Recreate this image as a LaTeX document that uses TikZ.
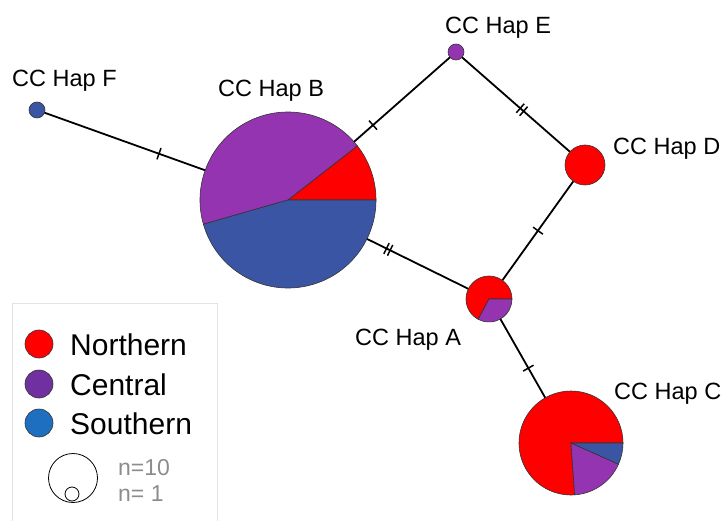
\documentclass[tikz,border=0pt]{standalone}
\usepackage{fontspec}
\setmainfont{Liberation Sans}
\usetikzlibrary{backgrounds}

\definecolor{hapred}{HTML}{FF0000}
\definecolor{happurple}{HTML}{9534B0}
\definecolor{hapblue}{HTML}{3B55A5}
\definecolor{legpurple}{HTML}{7030A0}
\definecolor{legblue}{HTML}{1F6FC0}
\definecolor{legframe}{HTML}{E3E3E3}
\definecolor{keygray}{HTML}{8C8C8C}

% node, radius, start angle, end angle, colour
\newcommand{\hapslice}[5]{%
  \filldraw[slice, fill=#5] (#1.center) -- ++(#3:#2)
    arc[start angle=#3, end angle=#4, radius=#2] -- cycle;}

\begin{document}
\begin{tikzpicture}[
        x=1pt, y=1pt,
        hap/.style={
            circle, inner sep=0pt, draw=black!80,
            line width=0.6pt
        },
        pie/.style={circle, inner sep=0pt},
        slice/.style={draw=black!80, line width=0.6pt},
        edge/.style={line width=1.8pt, black},
        tick/.style={
            sloped, draw, line width=1.5pt, inner sep=0pt,
            minimum width=0pt, minimum height=12pt
        },
        lbl/.style={
            anchor=base west, inner sep=0pt,
            font=\fontsize{23.5}{28}\selectfont
        },
        legdot/.style={
            circle, draw=black!80, line width=0.6pt,
            inner sep=0pt, minimum size=28pt
        },
        legtext/.style={
            anchor=base west, inner sep=0pt,
            font=\fontsize{30}{36}\selectfont
        },
        keytext/.style={
            anchor=base west, inner sep=0pt, text=keygray,
            font=\fontsize{23}{28}\selectfont
        }
    ]
    \useasboundingbox (0,0) rectangle (725,-521);

    % Haplotype nodes
    \node[pie, minimum size=176pt] (hapB) at (288,-200) {};
    \node[pie, minimum size=46pt]  (hapA) at (489,-299) {};
    \node[pie, minimum size=104pt] (hapC) at (571,-443) {};
    \node[hap, fill=hapred, minimum size=40pt]    (hapD) at (585,-165) {};
    \node[hap, fill=happurple, minimum size=16pt] (hapE) at (456,-52) {};
    \node[hap, fill=hapblue, minimum size=16pt]   (hapF) at (37,-110) {};

    % Mutation steps
    \begin{scope}[on background layer]
        \draw[edge] (hapF.center) -- (hapB.center)
            node[tick, pos=0.486] {};
        \draw[edge] (hapB.center) -- (hapE.center)
            node[tick, pos=0.506] {};
        \draw[edge] (hapE.center) -- (hapD.center)
            node[tick, pos=0.498] {} node[tick, pos=0.524] {};
        \draw[edge] (hapD.center) -- (hapA.center)
            node[tick, pos=0.49] {};
        \draw[edge] (hapB.center) -- (hapA.center)
            node[tick, pos=0.49] {} node[tick, pos=0.508] {};
        \draw[edge] (hapA.center) -- (hapC.center)
            node[tick, pos=0.48] {};
    \end{scope}

    % Pie slices
    \hapslice{hapB}{88}{0}{38}{hapred}
    \hapslice{hapB}{88}{38}{196}{happurple}
    \hapslice{hapB}{88}{196}{360}{hapblue}
    \hapslice{hapA}{23}{0}{242}{hapred}
    \hapslice{hapA}{23}{242}{360}{happurple}
    \hapslice{hapC}{52}{0}{274}{hapred}
    \hapslice{hapC}{52}{274}{336}{happurple}
    \hapslice{hapC}{52}{336}{360}{hapblue}

    % Haplotype labels
    \node[lbl] (lblF) at (12,-86.5) {CC Hap F};
    \node[lbl] (lblB) at (218,-97)  {CC Hap B};
    \node[lbl] (lblE) at (445,-33.5) {CC Hap E};
    \node[lbl] (lblD) at (613,-155) {CC Hap D};
    \node[lbl] (lblA) at (355,-345) {CC Hap A};
    \node[lbl] (lblC) at (614,-399) {CC Hap C};

    % Legend
    \draw[legframe, line width=1pt]
        (12,-521) -- (12,-303) -- (217,-303) -- (217,-521);
    \node[legdot, fill=hapred]    (dotN) at (39,-344) {};
    \node[legdot, fill=legpurple] (dotC) at (39,-384) {};
    \node[legdot, fill=legblue]   (dotS) at (39,-423) {};
    \node[legtext] (txtN) at (70,-355) {Northern};
    \node[legtext] (txtC) at (70,-395) {Central};
    \node[legtext] (txtS) at (70,-434) {Southern};

    % Size key
    \node[circle, draw, line width=0.8pt, inner sep=0pt,
        minimum size=49pt] (key10) at (73,-478) {};
    \node[circle, draw, line width=0.8pt, inner sep=0pt,
        minimum size=14pt] (key1) at (72,-494) {};
    \node[keytext] (txt10) at (118,-475) {n=10};
    \node[keytext] (txt1)  at (118,-501) {n= 1};

\end{tikzpicture}
\end{document}
